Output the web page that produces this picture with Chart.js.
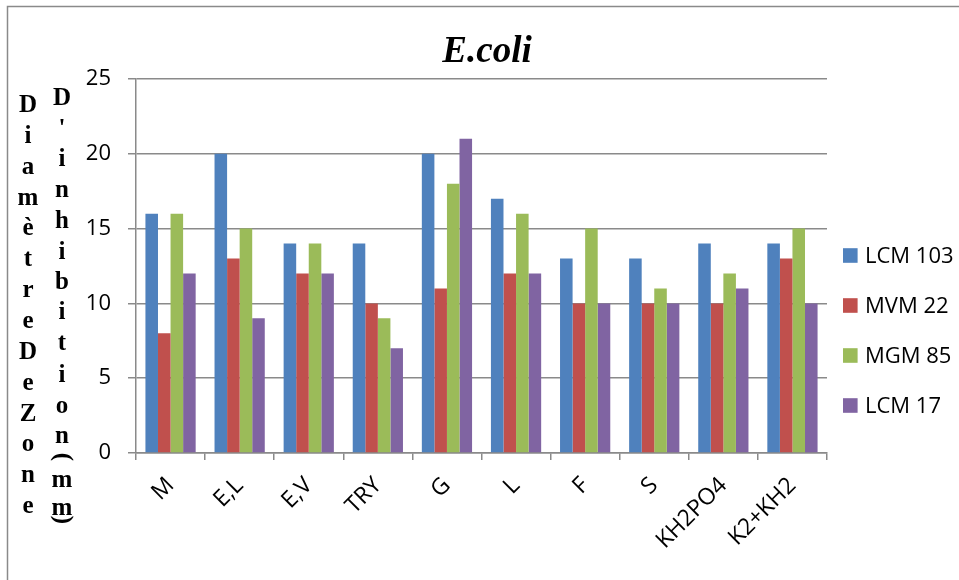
<!DOCTYPE html>
<html>
<head>
<meta charset="utf-8">
<script src="https://cdn.jsdelivr.net/npm/chart.js@4/dist/chart.umd.min.js"></script>
<style>
  html, body { margin: 0; padding: 0; background: #ffffff; }
  #wrap { width: 959px; height: 580px; position: relative; }
</style>
</head>
<body>
<div id="wrap"><canvas id="chart" width="959" height="580"></canvas></div>
<script>
// Inhibition zone diameters (mm) for E.coli, per medium and strain
const categories = ['M', 'E,L', 'E,V', 'TRY', 'G', 'L', 'F', 'S', 'KH2PO4', 'K2+KH2'];
const seriesNames = ['LCM 103', 'MVM 22', 'MGM 85', 'LCM 17'];
const lcm103 = [16, 20, 14, 14, 20, 17, 13, 13, 14, 14];
const mvm22  = [8, 13, 12, 10, 11, 12, 10, 10, 10, 13];
const mgm85  = [16, 15, 14, 9, 18, 16, 15, 11, 12, 15];
const lcm17  = [12, 9, 12, 7, 21, 12, 10, 10, 11, 10];
const yTicks = [0, 5, 10, 15, 20, 25];
const chartTitle = 'E.coli';
const yTitleLeft = 'DiamètreDeZone';
const yTitleRight = "D'inhibition(mm)";

const colors = ['#4F81BD', '#C0504D', '#9BBB59', '#8064A2'];
const gridGray = '#8a8a8a';

// Frame, title, stacked y-axis title and legend
const decorations = {
  id: 'decorations',
  afterDraw(chart) {
    const ctx = chart.ctx;
    ctx.save();

    // outer frame (top and left edges)
    ctx.strokeStyle = gridGray;
    ctx.lineWidth = 1.5;
    ctx.beginPath();
    ctx.moveTo(7.5, 590);
    ctx.lineTo(7.5, 6.5);
    ctx.lineTo(970, 6.5);
    ctx.stroke();

    // title
    ctx.fillStyle = '#000';
    ctx.font = 'bold italic 37px "Liberation Serif", "DejaVu Serif", serif';
    ctx.textAlign = 'center';
    ctx.textBaseline = 'alphabetic';
    ctx.fillText(chartTitle, 487, 62);

    // y-axis title, one character per line in two columns
    ctx.font = 'bold 25px "Liberation Serif", "DejaVu Serif", serif';
    Array.from(yTitleLeft).forEach((ch, i) => ctx.fillText(ch, 28, 112 + i * 30.85));

    const rightBase = [105, 136, 166, 197, 228, 259, 289, 319, 350, 382, 413, 443, 457, 487, 515, 520];
    Array.from(yTitleRight).forEach((ch, i) => {
      if (ch === '(' || ch === ')') {
        // brackets are turned a quarter turn, as in vertical text
        ctx.save();
        ctx.translate(62, rightBase[i]);
        ctx.rotate(Math.PI / 2);
        ctx.textBaseline = 'middle';
        ctx.fillText(ch, 0, 0);
        ctx.restore();
      } else {
        ctx.fillText(ch, 62, rightBase[i]);
      }
    });

    // legend
    ctx.font = '22px "Open Sans", sans-serif';
    ctx.textAlign = 'left';
    ctx.textBaseline = 'middle';
    chart.data.datasets.forEach((ds, i) => {
      const cy = 255.5 + i * 50;
      ctx.fillStyle = ds.backgroundColor;
      ctx.fillRect(843, cy - 7.3, 14.6, 14.6);
      ctx.fillStyle = '#000';
      ctx.fillText(ds.label, 865, cy + 1);
    });

    ctx.restore();
  }
};

new Chart(document.getElementById('chart'), {
  type: 'bar',
  data: {
    labels: categories,
    datasets: [lcm103, mvm22, mgm85, lcm17].map((vals, i) => ({
      label: seriesNames[i],
      data: vals,
      backgroundColor: colors[i],
      borderWidth: 0,
      categoryPercentage: 0.727,
      barPercentage: 1.0
    }))
  },
  options: {
    responsive: false,
    animation: false,
    devicePixelRatio: 1,
    layout: { padding: { left: 0, top: 79, right: 132, bottom: 0 } },
    plugins: {
      legend: { display: false },
      title: { display: false },
      tooltip: { enabled: false }
    },
    scales: {
      x: {
        grid: {
          display: true,
          drawOnChartArea: false,
          drawTicks: true,
          tickLength: 7,
          color: gridGray,
          lineWidth: 1.5
        },
        border: { display: true, color: gridGray, width: 1.5 },
        ticks: {
          minRotation: 45,
          maxRotation: 45,
          autoSkip: false,
          padding: 12,
          color: '#000',
          font: { family: '"Open Sans", sans-serif', size: 23 }
        },
        afterFit(scale) { scale.height = 127; }
      },
      y: {
        min: 0,
        max: 25,
        afterBuildTicks(scale) { scale.ticks = yTicks.map(v => ({ value: v })); },
        grid: {
          color: gridGray,
          lineWidth: 1.5,
          drawTicks: true,
          tickLength: 8
        },
        border: { display: true, color: gridGray, width: 1.5 },
        ticks: {
          padding: 17,
          color: '#000',
          font: { family: '"Open Sans", sans-serif', size: 22 }
        },
        afterFit(scale) { scale.width = 136; }
      }
    }
  },
  plugins: [decorations]
});
</script>
</body>
</html>
